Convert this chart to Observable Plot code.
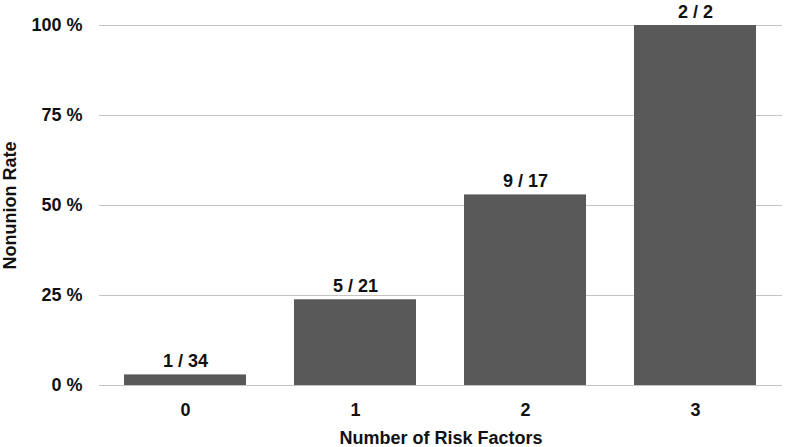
<!DOCTYPE html>
<html>
<head>
<meta charset="utf-8">
<script src="https://cdn.jsdelivr.net/npm/d3@7"></script>
<script src="https://cdn.jsdelivr.net/npm/@observablehq/plot@0.6"></script>
<style>
  html, body { margin: 0; padding: 0; background: #fff; }
  #chart svg { display: block; }
</style>
</head>
<body>
<div id="chart"></div>
<script>
const categories = ["0", "1", "2", "3"];
const nonunions = [1, 5, 9, 2];
const totals = [34, 21, 17, 2];
const yTicks = [0, 25, 50, 75, 100];
const yTitle = "Nonunion Rate";
const xTitle = "Number of Risk Factors";

const data = categories.map((c, i) => ({
  factors: c,
  rate: nonunions[i] / totals[i] * 100,
  label: `${nonunions[i]} / ${totals[i]}`
}));

const font = "'Liberation Sans', Arial, Helvetica, sans-serif";

const chart = Plot.plot({
  width: 785,
  height: 447,
  marginLeft: 99,
  marginRight: 3,
  marginTop: 25,
  marginBottom: 62,
  style: { fontFamily: font, fontSize: "18px", fontWeight: "bold", color: "#111", background: "#fff" },
  x: { domain: categories, paddingInner: 0.28, paddingOuter: 0.14 },
  y: { domain: [0, 100] },
  marks: [
    Plot.gridY(yTicks, { stroke: "#c4c4c4", strokeOpacity: 1, strokeWidth: 1 }),
    Plot.axisY(yTicks, {
      tickSize: 0, tickPadding: 17, tickFormat: d => d + " %",
      label: null, fontSize: 18, fontWeight: "bold", fill: "#111"
    }),
    Plot.axisX({
      tickSize: 0, tickPadding: 18,
      label: null, fontSize: 18, fontWeight: "bold", fill: "#111"
    }),
    Plot.barY(data, { x: "factors", y: "rate", fill: "#595959" }),
    Plot.text(data, {
      x: "factors", y: "rate", text: "label",
      lineAnchor: "bottom", dy: -8,
      fontSize: 18, fontWeight: "bold", fill: "#111"
    }),
    Plot.text([yTitle], {
      text: d => d, frameAnchor: "left", rotate: -90, dx: -89,
      textAnchor: "middle", lineAnchor: "middle",
      fontSize: 18, fontWeight: "bold", fill: "#111"
    }),
    Plot.text([xTitle], {
      text: d => d, frameAnchor: "bottom", dy: 53,
      textAnchor: "middle", lineAnchor: "middle",
      fontSize: 18, fontWeight: "bold", fill: "#111"
    })
  ]
});
document.getElementById("chart").appendChild(chart);
</script>
</body>
</html>
